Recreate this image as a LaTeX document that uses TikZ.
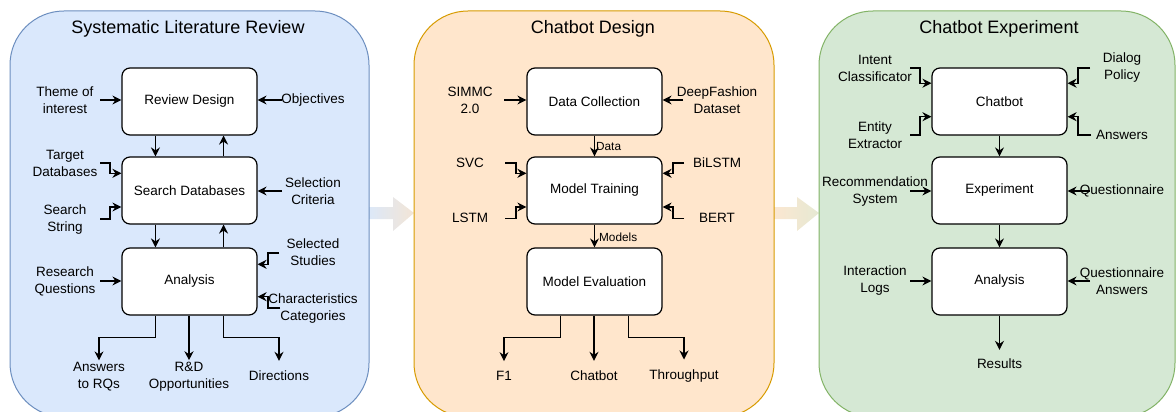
\documentclass[tikz,border=0pt]{standalone}
\usepackage{fontspec}
\setmainfont{Liberation Sans}
\usetikzlibrary{arrows.meta,calc}
\definecolor{p1fill}{HTML}{DAE8FC}
\definecolor{p1line}{HTML}{6C8EBF}
\definecolor{p2fill}{HTML}{FFE6CC}
\definecolor{p2line}{HTML}{D79B00}
\definecolor{p3fill}{HTML}{D5E8D4}
\definecolor{p3line}{HTML}{82B366}
\definecolor{ga}{HTML}{DCE8F8}
\definecolor{gb}{HTML}{F3E5D6}
\definecolor{gc}{HTML}{FBE7D1}
\definecolor{gd}{HTML}{E6E9D3}
\tikzset{
  panel/.style={rounded corners=54pt, line width=1pt},
  box/.style={draw, rounded corners=8pt, fill=white, minimum width=135pt, minimum height=67pt,
    line width=1.2pt, inner sep=0pt, font=\fontsize{13.5}{16}\selectfont},
  lbl/.style={align=center, inner sep=0pt, font=\fontsize{13.5}{17}\selectfont},
  small/.style={inner sep=0pt, font=\fontsize{11.8}{14}\selectfont},
  ttl/.style={inner sep=0pt, font=\fontsize{18}{21}\selectfont},
  arr/.style={line width=1.3pt, -{Stealth[length=9pt,width=9pt,inset=3pt]}},
  bigarrow/.style={draw=none}
}
\begin{document}
\begin{tikzpicture}[x=1pt,y=-1pt]
\useasboundingbox (0,0) rectangle (1176,412);
\clip (0,0) rectangle (1176,412);

% big transition arrows
\shade[left color=ga, right color=gb] (369,207) -- (393,207) -- (393,197) -- (414,213) -- (393,231) -- (393,219) -- (369,219) -- cycle;
\shade[left color=gc, right color=gd] (774,207) -- (797,207) -- (797,197) -- (819,213) -- (797,231) -- (797,219) -- (774,219) -- cycle;

% panels
\draw[panel, fill=p1fill, draw=p1line] (10,11) rectangle (369,417);
\draw[panel, fill=p2fill, draw=p2line] (414,11) rectangle (774,417);
\draw[panel, fill=p3fill, draw=p3line] (819,11) rectangle (1175,417);

% ================= Panel 1 =================
\node[ttl] (t1) at (188,29) {Systematic Literature Review};
\node[box] (rd) at (189.5,101.5) {Review Design};
\node[box] (sd) at (189.5,190.5) {Search Databases};
\node[box] (an) at (189.5,281.5) {Analysis};

\node[lbl] (theme) at (65,100.5) {Theme of\\interest};
\node[lbl] (obj) at (313,100) {Objectives};
\node[lbl] (tdb) at (65,163.5) {Target\\Databases};
\node[lbl] (ss) at (65,219.5) {Search\\String};
\node[lbl] (selc) at (313,191) {Selection\\Criteria};
\node[lbl] (selst) at (313,252.5) {Selected\\Studies};
\node[lbl] (cc) at (313,309) {Characteristics\\Categories};
\node[lbl] (rq) at (65,281) {Research\\Questions};
\node[lbl] (ans) at (99,377) {Answers\\to RQs};
\node[lbl] (rnd) at (189,377) {R\&D\\Opportunities};
\node[lbl] (dir) at (279,376) {Directions};

\coordinate (theme-o) at (100,100);
\coordinate (obj-o) at (282,100);
\coordinate (tdb-o) at (100,163);
\coordinate (ss-o) at (100,219);
\coordinate (selc-o) at (282,191);
\coordinate (selst-o) at (279,253);
\coordinate (cc-o) at (280,308);
\coordinate (rq-o) at (100,281);

\draw[arr] (theme-o) -- (rd.west |- theme-o);
\draw[arr] (obj-o) -- (rd.east |- obj-o);
\draw[arr] (tdb-o) -- ++(10,0) |- ($(sd.west)+(0,-17.2)$);
\draw[arr] (ss-o) -- ++(10,0) |- ($(sd.west)+(0,16.5)$);
\draw[arr] (selc-o) -- (sd.east |- selc-o);
\draw[arr] (selst-o) -- ++(-11,0) |- ($(an.east)+(0,-17.2)$);
\draw[arr] (cc-o) -- ++(-12,0) |- ($(an.east)+(0,15.2)$);
\draw[arr] (rq-o) -- (an.west |- rq-o);

\draw[arr] ($(rd.south west)!0.25!(rd.south east)$) -- ($(sd.north west)!0.25!(sd.north east)$);
\draw[arr] ($(sd.north west)!0.75!(sd.north east)$) -- ($(rd.south west)!0.75!(rd.south east)$);
\draw[arr] ($(sd.south west)!0.25!(sd.south east)$) -- ($(an.north west)!0.25!(an.north east)$);
\draw[arr] ($(an.north west)!0.75!(an.north east)$) -- ($(sd.south west)!0.75!(sd.south east)$);

\draw[arr] ($(an.south west)!0.25!(an.south east)$) -- ++(0,22) -| ($(ans.north)+(0,-2)$);
\draw[arr] (an.south -| rnd.north) -- ($(rnd.north)+(0,-2)$);
\draw[arr] ($(an.south west)!0.75!(an.south east)$) -- ++(0,22) -| ($(dir.north)+(0,-10)$);

% ================= Panel 2 =================
\node[ttl] (t2) at (593,29) {Chatbot Design};
\node[box] (dc) at (594.5,101.5) {Data Collection};
\node[box] (mt) at (594.5,190.5) {Model Training};
\node[box] (me) at (594.5,281.5) {Model Evaluation};

\node[lbl] (simmc) at (470,100.5) {SIMMC\\2.0};
\node[lbl] (dfd) at (717,100.5) {DeepFashion\\Dataset};
\node[lbl] (svc) at (470,163) {SVC};
\node[lbl] (bilstm) at (717,163) {BiLSTM};
\node[lbl] (lstm) at (470,218) {LSTM};
\node[lbl] (bert) at (717,218) {BERT};
\node[lbl] (f1) at (504,376) {F1};
\node[lbl] (cbo) at (594,376) {Chatbot};
\node[lbl] (thr) at (684,376) {Throughput};

\coordinate (simmc-o) at (504,100);
\coordinate (dfd-o) at (683,100);
\coordinate (svc-o) at (505,163);
\coordinate (bilstm-o) at (684,163);
\coordinate (lstm-o) at (505,218.5);
\coordinate (bert-o) at (684,218.5);

\draw[arr] (simmc-o) -- (dc.west |- simmc-o);
\draw[arr] (dfd-o) -- (dc.east |- dfd-o);
\draw[arr] (svc-o) -- ++(11,0) |- ($(mt.west)+(0,-17.2)$);
\draw[arr] (bilstm-o) -- ++(-11,0) |- ($(mt.east)+(0,-17.2)$);
\draw[arr] (lstm-o) -- ++(11,0) |- ($(mt.west)+(0,16.5)$);
\draw[arr] (bert-o) -- ++(-11,0) |- ($(mt.east)+(0,16.5)$);

\draw[arr] (dc.south) -- node[small, anchor=west, xshift=1pt] (datal) {Data} (mt.north);
\draw[arr] (mt.south) -- node[small, anchor=west, xshift=4pt, yshift=-1pt] (modl) {Models} (me.north);

\draw[arr] ($(me.south west)!0.25!(me.south east)$) -- ++(0,22) -| ($(f1.north)+(0,-10)$);
\draw[arr] (me.south -| cbo.north) -- ($(cbo.north)+(0,-10)$);
\draw[arr] ($(me.south west)!0.75!(me.south east)$) -- ++(0,22) -| ($(thr.north)+(0,-10)$);

% ================= Panel 3 =================
\node[ttl] (t3) at (999,29) {Chatbot Experiment};
\node[box] (cb) at (999.5,101.5) {Chatbot};
\node[box] (ex) at (999.5,190.5) {Experiment};
\node[box] (an3) at (999.5,281.5) {Analysis};

\node[lbl] (intent) at (875,68) {Intent\\Classificator};
\node[lbl] (entity) at (875,135.5) {Entity\\Extractor};
\node[lbl] (dialog) at (1122,68) {Dialog\\Policy};
\node[lbl] (answ) at (1122,135) {Answers};
\node[lbl] (recsys) at (875,191.5) {Recommendation\\System};
\node[lbl] (quest) at (1122,191) {Questionnaire};
\node[lbl] (il) at (875,281) {Interaction\\Logs};
\node[lbl] (qa) at (1122,281) {Questionnaire\\Answers};
\node[lbl] (res) at (999.5,364) {Results};

\coordinate (intent-o) at (910,68);
\coordinate (entity-o) at (910,135);
\coordinate (dialog-o) at (1090,68);
\coordinate (answ-o) at (1091,135);
\coordinate (recsys-o) at (910,191);
\coordinate (quest-o) at (1090,191);
\coordinate (il-o) at (910,281);
\coordinate (qa-o) at (1090,281);

\draw[arr] (intent-o) -- ++(10,0) |- ($(cb.west)+(0,-18.3)$);
\draw[arr] (entity-o) -- ++(10,0) |- ($(cb.west)+(0,15.2)$);
\draw[arr] (dialog-o) -- ++(-12,0) |- ($(cb.east)+(0,-18.3)$);
\draw[arr] (answ-o) -- ++(-13,0) |- ($(cb.east)+(0,15.2)$);
\draw[arr] (recsys-o) -- (ex.west |- recsys-o);
\draw[arr] (quest-o) -- (ex.east |- quest-o);
\draw[arr] (il-o) -- (an3.west |- il-o);
\draw[arr] (qa-o) -- (an3.east |- qa-o);

\draw[arr] (cb.south) -- (ex.north);
\draw[arr] (ex.south) -- (an3.north);
\draw[arr] (an3.south) -- ($(res.north)+(0,-9)$);
\end{tikzpicture}
\end{document}
